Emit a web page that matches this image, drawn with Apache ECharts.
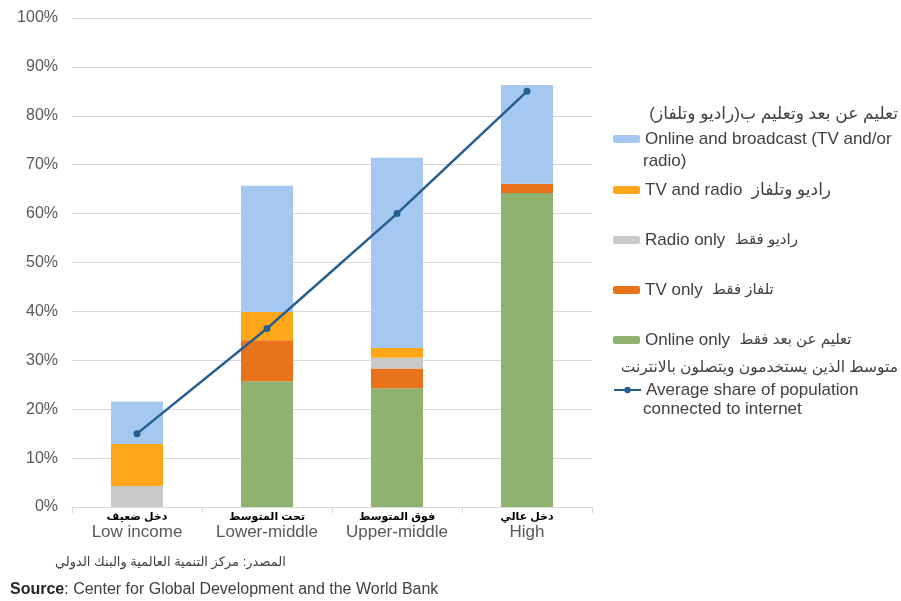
<!DOCTYPE html>
<html>
<head>
<meta charset="utf-8">
<script src="https://cdn.jsdelivr.net/npm/echarts@6/dist/echarts.min.js"></script>
<style>html,body{margin:0;padding:0;background:#fff}#c{width:901px;height:601px}</style>
</head>
<body>
<div id="c"></div>
<script>
const categories = ['Low income', 'Lower-middle', 'Upper-middle', 'High'];
const categoriesAr = ['دخل ضعيف', 'تحت المتوسط', 'فوق المتوسط', 'دخل عالي'];
const onlineOnly = [0, 25.7, 24.3, 64.2];
const tvOnly = [0, 8.4, 4.0, 1.9];
const radioOnly = [4.3, 0, 2.2, 0];
const tvRadio = [8.6, 5.8, 2.0, 0];
const onlineBroadcast = [8.7, 25.8, 38.9, 20.2];
const internetShare = [15, 36.5, 60, 85];

const FONT = 'Liberation Sans, Arial, DejaVu Sans, sans-serif';
const RLM = '\u200F';

const names = {
  ob: 'Online and broadcast (TV and/or',
  tr: 'TV and radio',
  ro: 'Radio only',
  to: 'TV only',
  oo: 'Online only',
  av: 'Average share of population'
};
const legendAr = {
  [names.tr]: 'راديو وتلفاز',
  [names.ro]: 'راديو فقط',
  [names.to]: 'تلفاز فقط',
  [names.oo]: 'تعليم عن بعد فقط'
};
const legendArSize = {
  [names.tr]: 'big', [names.ro]: 'mid', [names.to]: 'mid', [names.oo]: 'mid'
};

function legendAt(name, centerY) {
  return {
    data: [name], left: 613, top: centerY - 10, padding: 0,
    itemWidth: 27, itemHeight: 8, itemGap: 0, itemTextGap: 3,
    selectedMode: false,
    textStyle: {
      fontSize: 17, color: '#404040', fontFamily: FONT, lineHeight: 20,
      rich: {
        big: { fontSize: 17, color: '#404040', fontFamily: FONT, lineHeight: 20 },
        mid: { fontSize: 15, color: '#404040', fontFamily: FONT, lineHeight: 20 }
      }
    },
    formatter: n => legendAr[n] ? n + '  {' + legendArSize[n] + '|' + RLM + legendAr[n] + RLM + '}' : n
  };
}

const chart = echarts.init(document.getElementById('c'));
const barCommon = { type: 'bar', stack: 'total', barWidth: 52 };
chart.setOption({
  animation: false,
  grid: { left: 72, right: 309, top: 18, bottom: 94 },
  xAxis: {
    type: 'category', data: categories,
    axisLine: { lineStyle: { color: '#D9D9D9', width: 1 } },
    axisTick: { show: true, length: 6, lineStyle: { color: '#D9D9D9' } },
    axisLabel: {
      margin: 3,
      formatter: (v, i) => '{ar|' + categoriesAr[i] + '}\n{en|' + v + '}',
      rich: {
        ar: { fontSize: 11, fontWeight: 'bold', color: '#000', fontFamily: FONT, lineHeight: 13 },
        en: { fontSize: 17, color: '#595959', fontFamily: FONT, lineHeight: 19 }
      }
    }
  },
  yAxis: {
    type: 'value', min: 0, max: 100, interval: 10,
    axisLine: { show: false }, axisTick: { show: false },
    axisLabel: { formatter: '{value}%', fontSize: 16, color: '#595959', fontFamily: FONT, margin: 14 },
    splitLine: { lineStyle: { color: '#D9D9D9', width: 1 } }
  },
  legend: [
    legendAt(names.ob, 139),
    legendAt(names.tr, 190),
    legendAt(names.ro, 240),
    legendAt(names.to, 290),
    legendAt(names.oo, 340),
    legendAt(names.av, 390)
  ],
  graphic: [
    { type: 'text', left: 643, top: 153, style: { text: 'radio)', fontSize: 17, fill: '#404040', fontFamily: FONT } },
    { type: 'text', left: 643, top: 401, style: { text: 'connected to internet', fontSize: 17, fill: '#404040', fontFamily: FONT } },
    { type: 'text', right: 3, top: 106, style: { text: RLM + 'تعليم عن بعد وتعليم ب(راديو وتلفاز)' + RLM, fontSize: 17, fill: '#404040', fontFamily: FONT } },
    { type: 'text', right: 3, top: 360, style: { text: RLM + 'متوسط الذين يستخدمون ويتصلون بالانترنت' + RLM, fontSize: 15.5, fill: '#404040', fontFamily: FONT } },
    { type: 'text', left: 55, top: 556, style: { text: RLM + 'المصدر: مركز التنمية العالمية والبنك الدولي' + RLM, fontSize: 13, fill: '#404040', fontFamily: FONT } },
    { type: 'text', left: 10, top: 582, style: {
        text: '{b|Source}{n|: Center for Global Development and the World Bank}',
        rich: {
          b: { fontSize: 16, fontWeight: 'bold', fill: '#262626', fontFamily: FONT },
          n: { fontSize: 16, fill: '#404040', fontFamily: FONT }
        }
      } }
  ],
  series: [
    Object.assign({}, barCommon, { name: names.oo, data: onlineOnly, itemStyle: { color: '#8FB36E' } }),
    Object.assign({}, barCommon, { name: names.to, data: tvOnly, itemStyle: { color: '#E8731A' } }),
    Object.assign({}, barCommon, { name: names.ro, data: radioOnly, itemStyle: { color: '#C9C9C9' } }),
    Object.assign({}, barCommon, { name: names.tr, data: tvRadio, itemStyle: { color: '#FFA619' } }),
    Object.assign({}, barCommon, { name: names.ob, data: onlineBroadcast, itemStyle: { color: '#A4C8F0' } }),
    {
      name: names.av, type: 'line', data: internetShare,
      symbol: 'circle', symbolSize: 7,
      lineStyle: { color: '#255E91', width: 2.5 },
      itemStyle: { color: '#255E91' }, z: 10
    }
  ]
});
</script>
</body>
</html>
